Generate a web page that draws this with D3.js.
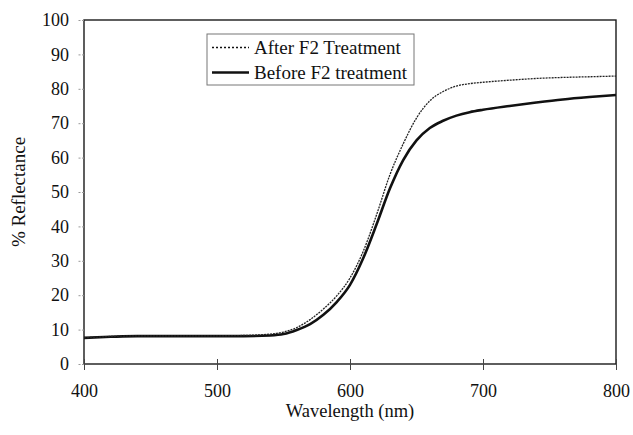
<!DOCTYPE html>
<html>
<head>
<meta charset="utf-8">
<script src="https://cdn.jsdelivr.net/npm/d3@7"></script>
<style>
  body { margin: 0; background: #fff; }
  svg text { font-family: "Liberation Serif", "Times New Roman", serif; fill: #111; }
</style>
</head>
<body>
<svg id="chart" width="633" height="435" font-family="Liberation Serif"></svg>
<script>
// wavelength (nm)
const wavelength = [400, 420, 440, 460, 480, 500, 520, 540, 550, 560, 570, 580, 590, 600,
  610, 620, 630, 640, 650, 660, 670, 680, 690, 700, 720, 740, 760, 780, 800];
// % reflectance after F2 treatment
const afterF2 = [7.6, 8.0, 8.2, 8.2, 8.2, 8.2, 8.3, 8.7, 9.3, 10.6, 12.9, 16.0, 19.8, 25.0,
  32.8, 43.4, 55.0, 64.0, 71.5, 76.5, 79.2, 80.8, 81.5, 81.9, 82.5, 83.0, 83.3, 83.5, 83.7];
// % reflectance before F2 treatment
const beforeF2 = [7.6, 7.9, 8.1, 8.1, 8.1, 8.1, 8.1, 8.3, 8.7, 9.9, 11.6, 14.3, 18.0, 23.0,
  30.8, 40.6, 51.0, 59.3, 65.0, 68.6, 70.7, 72.2, 73.2, 73.9, 75.0, 76.0, 76.9, 77.6, 78.2];
const xTicks = [400, 500, 600, 700, 800];
const yTicks = [0, 10, 20, 30, 40, 50, 60, 70, 80, 90, 100];
const legendLabels = ["After F2 Treatment", "Before F2 treatment"];

const serif = "'Liberation Serif', 'Times New Roman', serif";

let svg = d3.select("#chart");
let plotLeft = 84, plotRight = 616, plotTop = 20, plotBottom = 364;

let x = d3.scaleLinear().domain([400, 800]).range([plotLeft, plotRight]);
let y = d3.scaleLinear().domain([0, 100]).range([plotBottom, plotTop]);

// plot frame
svg.append("rect")
  .attr("x", plotLeft).attr("y", plotTop)
  .attr("width", plotRight - plotLeft).attr("height", plotBottom - plotTop)
  .style("fill", "none").style("stroke", "#1a1a1a").style("stroke-width", 1.4);

// y axis
let yAxis = svg.append("g")
  .attr("transform", "translate(" + plotLeft + ",0)")
  .call(d3.axisLeft(y).tickValues(yTicks).tickSize(6).tickPadding(9))
  .attr("font-family", serif).attr("font-size", null);
yAxis.select(".domain").remove();
yAxis.selectAll(".tick line").style("stroke", "#999").style("stroke-dasharray", "2,1.5");
yAxis.selectAll(".tick text")
  .style("font-family", serif).style("font-size", "18px").style("fill", "#111");

// x axis, ticks crossing the frame line
let xAxis = svg.append("g")
  .attr("transform", "translate(0," + (plotBottom + 5) + ")")
  .call(d3.axisBottom(x).tickValues(xTicks).tickSize(10).tickPadding(5))
  .attr("font-family", serif).attr("font-size", null);
xAxis.select(".domain").remove();
xAxis.selectAll(".tick line").attr("y1", -10).attr("y2", 1).style("stroke", "#444");
xAxis.selectAll(".tick text")
  .style("font-family", serif).style("font-size", "18px").style("fill", "#111");

svg.append("text")
  .attr("x", (plotLeft + plotRight) / 2).attr("y", 417)
  .attr("text-anchor", "middle")
  .style("font-family", serif)
  .style("font-size", "18.5px")
  .text("Wavelength (nm)");

svg.append("text")
  .attr("transform", "translate(25," + ((plotTop + plotBottom) / 2) + ") rotate(-90)")
  .attr("text-anchor", "middle")
  .style("font-family", serif)
  .style("font-size", "19px")
  .text("% Reflectance");

let line = d3.line()
  .x((d, i) => x(wavelength[i]))
  .y(d => y(d))
  .curve(d3.curveMonotoneX);

svg.append("path")
  .datum(beforeF2)
  .attr("d", line)
  .style("fill", "none").style("stroke", "#111").style("stroke-width", 2.6);

svg.append("path")
  .datum(afterF2)
  .attr("d", line)
  .style("fill", "none").style("stroke", "#222").style("stroke-width", 1.3)
  .style("stroke-dasharray", "2,1");

// legend
let legend = svg.append("g");
legend.append("rect")
  .attr("x", 207).attr("y", 34).attr("width", 207).attr("height", 51)
  .style("fill", "#fff").style("stroke", "#777").style("stroke-width", 1);

legend.selectAll(".legend_line")
  .data(legendLabels)
  .enter()
  .append("line")
  .attr("x1", 212).attr("x2", 249)
  .attr("y1", (d, i) => 47.5 + i * 25)
  .attr("y2", (d, i) => 47.5 + i * 25)
  .style("stroke", "#111")
  .style("stroke-width", (d, i) => i == 0 ? 1.3 : 2.6)
  .style("stroke-dasharray", (d, i) => i == 0 ? "2,2" : null);

legend.selectAll(".legend_text")
  .data(legendLabels)
  .enter()
  .append("text")
  .attr("x", 254)
  .attr("y", (d, i) => 53.5 + i * 25)
  .style("font-family", serif)
  .style("font-size", "19px")
  .text(d => d);
</script>
</body>
</html>
